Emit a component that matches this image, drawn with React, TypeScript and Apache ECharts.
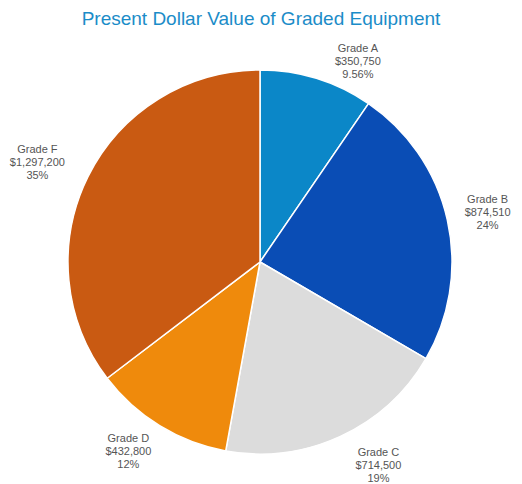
import React, { useEffect, useRef } from "react";
import * as echarts from "echarts";

const categories = ["Grade A", "Grade B", "Grade C", "Grade D", "Grade F"];
const values = [350750, 874510, 714500, 432800, 1297200];
const percentLabels = ["9.56%", "24%", "19%", "12%", "35%"];
const colors = ["#0b87c8", "#0a4db5", "#dcdcdc", "#ef8a0c", "#c95a12"];

const W = 522;
const H = 484;
const CX = 260;
const CY = 262;
const R = 192;
const LABEL_R = [224, 233, 235, 230, 244];
const LABEL_ANGLE_SHIFT = [8.7, 0.3, -5.5, 3.4, -2.2];

export default function App() {
  const ref = useRef<HTMLDivElement>(null);
  useEffect(() => {
    document.body.style.margin = "0";
    const chart = echarts.init(ref.current!, null, { renderer: "svg" });
    const total = values.reduce((a, b) => a + b, 0);
    const mids: number[] = [];
    let acc = 0;
    values.forEach((v) => {
      mids.push(((acc + v / 2) / total) * 360);
      acc += v;
    });
    const fmt = (n: number) => "$" + n.toLocaleString("en-US");
    chart.setOption({
      animation: false,
      backgroundColor: "#ffffff",
      title: {
        text: "Present Dollar Value of Graded Equipment",
        left: "center",
        top: 4,
        textStyle: {
          color: "#1b8cc8",
          fontSize: 19,
          fontWeight: "normal",
          fontFamily: "Liberation Sans, Arial, sans-serif",
        },
      },
      series: [
        {
          type: "pie",
          center: [CX, CY],
          radius: [0, R],
          startAngle: 90,
          clockwise: true,
          label: {
            show: true,
            position: "outside",
            color: "#555555",
            fontSize: 11,
            lineHeight: 13,
            overflow: "none",
            fontFamily: "Liberation Sans, Arial, sans-serif",
            align: "center",
            formatter: (p: any) =>
              `${p.name}\n${fmt(p.value)}\n${percentLabels[p.dataIndex]}`,
          },
          labelLine: { show: false },
          labelLayout: (p: any) => {
            const i = p.dataIndex;
            const a = ((mids[i] + LABEL_ANGLE_SHIFT[i]) * Math.PI) / 180;
            return {
              x: CX + LABEL_R[i] * Math.sin(a),
              y: CY - LABEL_R[i] * Math.cos(a),
              align: "center",
              verticalAlign: "middle",
              width: 120,
            };
          },
          itemStyle: { borderColor: "#ffffff", borderWidth: 1.5 },
          emphasis: { disabled: true },
          data: categories.map((c, i) => ({
            name: c,
            value: values[i],
            itemStyle: { color: colors[i] },
          })),
        },
      ],
    });
    return () => chart.dispose();
  }, []);
  return <div ref={ref} style={{ width: W, height: H }} />;
}
